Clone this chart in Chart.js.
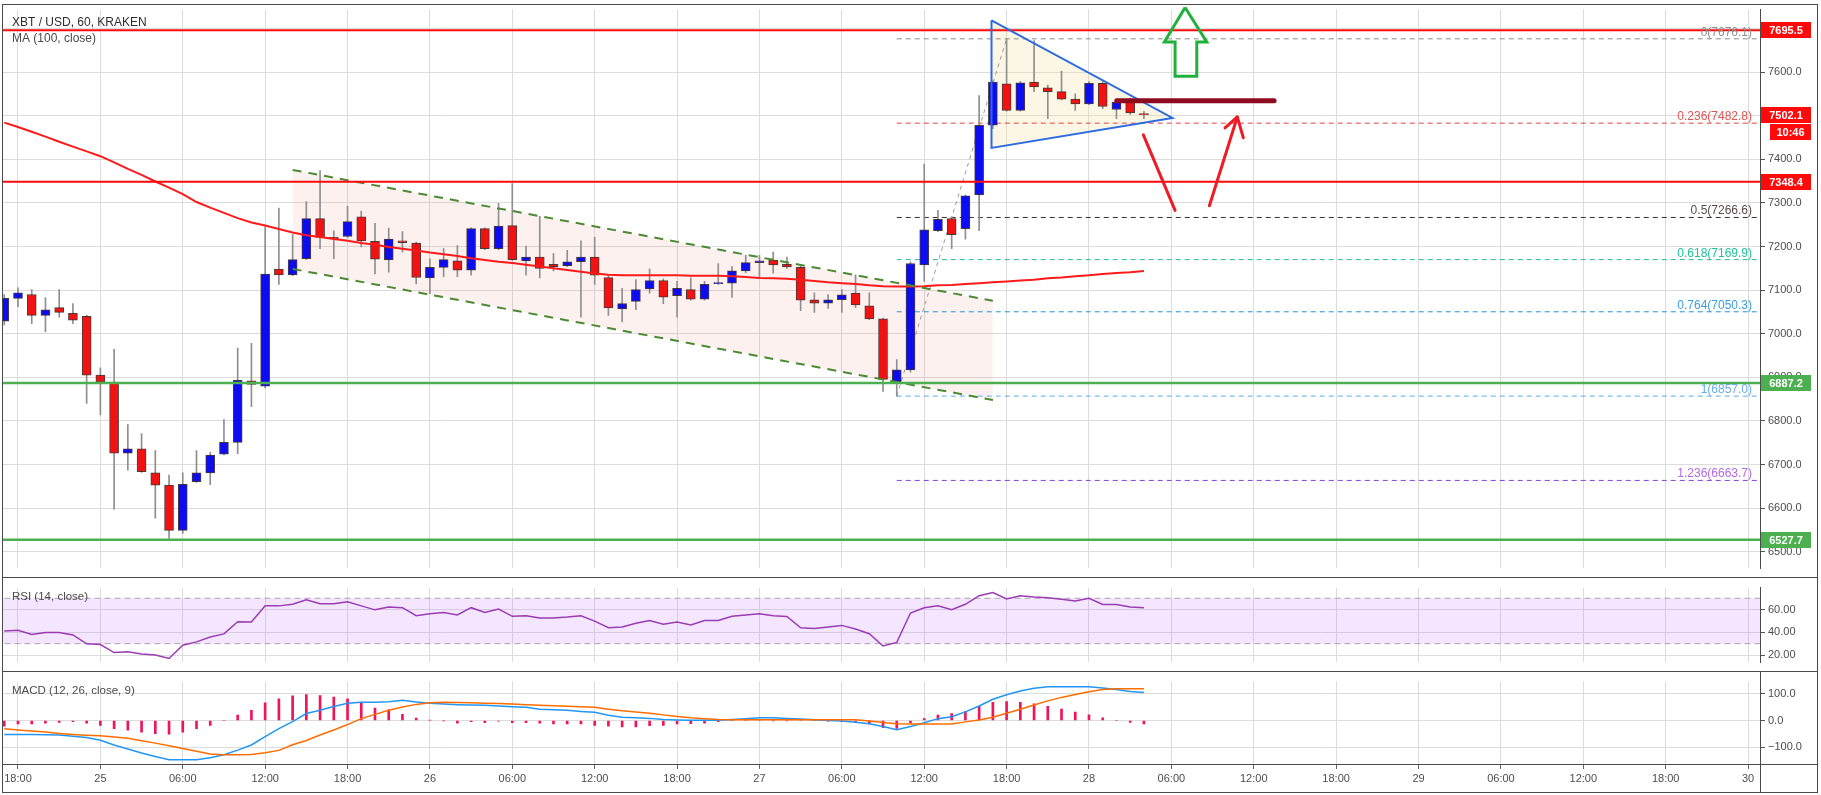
<!DOCTYPE html>
<html><head><meta charset="utf-8">
<script src="https://cdn.jsdelivr.net/npm/chart.js@4.4.1/dist/chart.umd.min.js"></script>
<style>
html,body{margin:0;padding:0;background:#fff;}
#wrap{position:relative;width:1821px;height:795px;overflow:hidden;background:#fff;}
canvas{position:absolute;left:0;}
</style></head><body>
<div id="wrap">
<canvas id="cPrice" width="1821" height="578" style="top:0;width:1821px;height:578px"></canvas>
<canvas id="cRsi" width="1821" height="94" style="top:578px;width:1821px;height:94px"></canvas>
<canvas id="cMacd" width="1821" height="123" style="top:672px;width:1821px;height:123px"></canvas>
</div>
<script>
// ---------- DATA (hourly candles, hour 0 = 24th 18:00) ----------
const FIRST_HOUR = -1;
const candleOpen = [
  7029,7081,7090,7042,7060,7047,7040,6905,6889,6726,
  6736,6681,6653,6549,6661,6681,6724,6751,6892,6880,
  7148,7135,7172,7264,7221,7223,7268,7212,7169,7213,
  7208,7128,7152,7167,7146,7241,7195,7248,7167,7176,
  7159,7156,7165,7176,7129,7057,7074,7103,7122,7087,
  7101,7079,7115,7116,7144,7163,7169,7159,7152,7078,
  7070,7078,7093,7064,7034,6890,6917,7158,7236,7264,
  7241,7318,7478,7573,7512,7577,7564,7555,7538,7527,
  7574,7514,7531,7505];
const candleHigh = [
  7090,7105,7101,7083,7101,7069,7042,6922,6964,6792,
  6771,6732,6676,6681,6732,6728,6803,6967,6978,7245,
  7288,7228,7303,7374,7236,7292,7281,7253,7242,7234,
  7210,7172,7195,7202,7243,7243,7299,7344,7201,7269,
  7184,7191,7213,7221,7134,7104,7124,7149,7126,7120,
  7128,7120,7161,7154,7180,7180,7187,7176,7155,7094,
  7090,7101,7135,7094,7036,6941,7165,7389,7283,7268,
  7318,7546,7580,7676,7578,7672,7570,7602,7550,7578,
  7578,7535,7540,7510];
const candleLow = [
  7020,7062,7023,7004,7038,7023,6840,6814,6598,6687,
  6682,6577,6531,6542,6659,6654,6722,6725,6833,6876,
  7113,7133,7170,7195,7172,7221,7199,7137,7141,7187,
  7114,7092,7131,7131,7134,7193,7193,7168,7134,7128,
  7144,7154,7038,7113,7042,7027,7055,7093,7069,7038,
  7077,7077,7113,7083,7140,7131,7139,7150,7053,7049,
  7058,7049,7060,7032,6868,6857,6912,7120,7234,7195,
  7217,7236,7470,7510,7510,7555,7493,7536,7512,7525,
  7516,7493,7503,7493];
const candleClose = [
  7081,7094,7042,7055,7049,7031,6905,6889,6726,6736,
  6684,6653,6549,6655,6681,6722,6751,6893,6884,7137,
  7135,7170,7264,7221,7218,7257,7213,7171,7217,7209,
  7129,7152,7170,7146,7241,7195,7247,7170,7176,7150,
  7154,7165,7176,7134,7059,7069,7101,7122,7084,7104,
  7079,7113,7117,7144,7163,7167,7158,7153,7077,7070,
  7078,7089,7066,7034,6895,6917,7161,7238,7262,7227,
  7316,7478,7577,7512,7575,7566,7555,7538,7527,7574,
  7521,7531,7506,7502];
const ma100 = [
  7484,7474,7463,7452,7440,7429,7418,7407,7393,7378,
  7364,7349,7335,7320,7302,7289,7277,7265,7255,7248,
  7240,7232,7226,7222,7217,7213,7208,7204,7199,7195,
  7191,7186,7182,7178,7173,7169,7165,7162,7158,7154,
  7150,7146,7142,7138,7135,7134,7134,7134,7134,7134,
  7133,7133,7133,7132,7130,7128,7127,7126,7124,7121,
  7118,7116,7114,7111,7109,7108,7108,7109,7111,7112,
  7114,7116,7118,7120,7122,7124,7127,7129,7132,7134,
  7137,7139,7141,7144];
const rsi14 = [
  41.2,41.9,38.1,39.8,39.8,37.7,29.9,29.2,22.2,22.9,
  21.0,20.0,16.9,28.7,31.6,35.8,38.6,49.4,49.2,63.3,
  63.3,64.7,68.7,65.2,65.2,66.9,63.3,59.8,62.4,61.7,
  54.6,56.3,57.4,55.3,61.7,57.4,60.5,54.1,54.6,52.7,
  52.7,53.4,54.6,49.9,44.0,44.7,48.0,50.4,47.1,49.0,
  46.4,50.4,50.4,54.1,55.3,56.3,54.6,53.9,44.0,43.3,
  44.7,46.1,42.9,38.8,28.0,31.1,57.0,61.7,63.3,60.0,
  64.7,72.3,75.1,69.4,72.3,71.1,70.4,69.2,67.6,69.9,
  64.5,64.5,62.4,61.7];
const macdLine = [
  -52,-52,-52,-53,-54,-58,-63,-73,-91,-106,
  -121,-134,-146,-146,-146,-138,-127,-110,-91,-60,
  -30,-4,26,38,52,64,68,68,70,75,
  69,64,61,59,58,57,54,51,49,42,
  40,38,34,31,20,12,10,8,4,2,
  1,1,1,4,7,10,10,8,6,3,
  0,-2,-6,-12,-22,-34,-22,-8,7,14,
  32,54,79,96,110,120,126,126,126,126,
  121,115,108,104];
const signalLine = [
  -31,-35,-39,-43,-48,-52,-55,-57,-61,-66,
  -75,-84,-94,-104,-114,-124,-127,-127,-126,-120,
  -111,-90,-74,-54,-35,-15,7,23,38,50,
  60,66,68,67,66,64,63,61,59,57,
  55,53,51,49,42,36,32,27,21,15,
  10,7,4,3,3,3,3,3,3,3,
  3,3,3,-2,-7,-12,-13,-13,-13,-13,
  -5,2,12,27,42,58,73,86,97,107,
  115,118,118,118];
const macdHist = [
  -21,-13,-13,-10,-7,-4,-10,-18,-30,-36,
  -43,-49,-51,-43,-30,-18,0,20,38,66,
  81,92,96,93,87,81,64,46,40,23,
  9,1,-1,-10,-4,-8,-2,-8,-8,-10,
  -13,-13,-13,-18,-21,-24,-24,-19,-18,-13,
  -12,-10,-4,0,1,1,-1,-1,0,0,
  -2,-4,-8,-13,-27,-29,-8,7,20,26,
  34,53,68,70,68,62,53,43,31,21,
  10,0,-7,-13];
const xTickLabels = ['18:00','25','06:00','12:00','18:00','26','06:00','12:00','18:00','27','06:00','12:00','18:00','28','06:00','12:00','18:00','29','06:00','12:00','18:00','30'];
const priceTickStep = 100;
const rsiTicks = [20, 40, 60];
const macdTicks = [-100, 0, 100];

// horizontal levels & drawings (hour, price)
const resistanceLevels = [7695.5, 7348.4];
const supportLevels = [6887.2, 6527.7];
const lastPrice = 7502.1;
const countdownText = '10:46';
const fibHigh = 7676.1, fibLow = 6857.0, fibLowHour = 64, fibHighHour = 72;
const fibRatios = [0, 0.236, 0.5, 0.618, 0.764, 1, 1.236];
const channelUpper = [[20, 7375.5], [71, 7075.5]];
const channelLower = [[20, 7148.5], [71, 6848.0]];
const triangle = [[70.9, 7718.6], [84.08, 7494.8], [70.9, 7426.0]];
const greenArrow = [[85.0, 7748], [83.49, 7668.7], [84.27, 7668.7], [84.27, 7590.4], [85.85, 7590.4], [85.85, 7668.7], [86.58, 7668.7], [85.0, 7748]];
const redStrokeDown = [[81.96, 7456], [84.27, 7282.8]];
const redArrowUp = [[86.77, 7293.3], [88.8, 7497]];
const redArrowHead = [[87.91, 7471.7], [88.8, 7497], [89.24, 7449.3]];
const breakLine = [[80.02, 7534.4], [91.48, 7534.4]];

// ---------- STYLE ----------
const X_MIN = -1.165, X_MAX = 126.87;
const GRID = '#dcdcdc', FRAME = '#4a4a4a';
const UP = '#0c0cf2', DOWN = '#f21212';
const fibColors = ['#8e8e8e', '#e8403f', '#3a2c2c', '#1fbf96', '#2196d6', '#5aaee8', '#8a3fe0'];
const fibTextColors = ['#8e8e8e', '#e05555', '#5c4a4a', '#22c29a', '#3a9ede', '#66aee6', '#b468ea'];
Chart.defaults.font.family = "'Liberation Sans', Arial, sans-serif";
Chart.defaults.font.size = 11;
Chart.defaults.color = '#4d4d4d';
Chart.defaults.animation = false;
Chart.defaults.events = [];
Chart.defaults.plugins.legend.display = false;
Chart.defaults.plugins.tooltip.enabled = false;

const hours = candleOpen.map((_, i) => FIRST_HOUR + i);
const series = arr => hours.map((h, i) => ({x: h, y: arr[i]}));
const poly = arr => arr.map(([x, y]) => ({x, y}));
const fibValue = r => fibHigh - r * (fibHigh - fibLow);

function xScale(showLabels) {
  return {
    type: 'linear', min: X_MIN, max: X_MAX, offset: false,
    afterBuildTicks: s => { s.ticks = xTickLabels.map((_, k) => ({value: k * 6})); },
    afterFit: s => { s.height = showLabels ? 30 : 0; },
    ticks: { display: showLabels, autoSkip: false, maxRotation: 0, minRotation: 0, padding: 3, color: '#4d4d4d',
      font: {size: 11}, callback: v => xTickLabels[Math.round(v / 6)] },
    grid: { color: GRID, offset: false, drawTicks: showLabels, tickLength: 4, tickColor: '#666' },
    border: { display: false }
  };
}
function yScale(min, max, step, digits, fixedTicks) {
  const cfg = {
    position: 'right', min, max,
    afterFit: s => { s.width = 61; },
    ticks: { stepSize: step, includeBounds: false, maxTicksLimit: 100, padding: 3, color: '#4d4d4d', font: {size: 11},
      callback: v => (v < 0 ? '\u2212' : '') + Math.abs(v).toFixed(digits) },
    grid: { color: GRID, tickColor: '#555', tickLength: 5 },
    border: { display: true, color: FRAME }
  };
  if (fixedTicks) cfg.afterBuildTicks = s => { s.ticks = fixedTicks.map(v => ({value: v})); };
  return cfg;
}
function frame(ctx, w, top, bottom, opts) {
  ctx.save();
  ctx.strokeStyle = FRAME; ctx.lineWidth = 1;
  ctx.beginPath();
  ctx.moveTo(2.5, top); ctx.lineTo(2.5, bottom);
  ctx.moveTo(1817.5, top); ctx.lineTo(1817.5, bottom);
  (opts.h || []).forEach(y => { ctx.moveTo(2, y); ctx.lineTo(1818, y); });
  (opts.v || []).forEach(x => { ctx.moveTo(x, top); ctx.lineTo(x, bottom); });
  ctx.stroke();
  ctx.restore();
}
function tag(ctx, x0, w, yc, text, bg) {
  ctx.fillStyle = bg;
  ctx.fillRect(x0, Math.round(yc) - 8, w, 16);
  ctx.fillStyle = '#ffffff';
  ctx.font = 'bold 11px "Liberation Sans", Arial, sans-serif';
  ctx.textAlign = 'center'; ctx.textBaseline = 'middle';
  ctx.fillText(text, x0 + w / 2, Math.round(yc) + 0.5);
}
const lineDs = (data, color, width, extra) => Object.assign({
  type: 'line', data, borderColor: color, borderWidth: width, pointRadius: 0, tension: 0, fill: false
}, extra || {});

// ---------- PRICE PANE ----------
const priceDatasets = [
  lineDs(poly(channelUpper), 'rgba(0,0,0,0)', 0, {fill: '+1', backgroundColor: 'rgba(240,120,100,0.1)', order: 95}),
  lineDs(poly(channelLower), 'rgba(0,0,0,0)', 0, {order: 95}),
  lineDs(poly(triangle.slice(0, 2)), 'rgba(0,0,0,0)', 0, {fill: '+1', backgroundColor: 'rgba(245,225,170,0.3)', order: 94}),
  lineDs(poly([triangle[2], triangle[1]]), 'rgba(0,0,0,0)', 0, {order: 94}),
  lineDs([{x: fibLowHour, y: fibLow}, {x: fibHighHour, y: fibHigh}], '#9a9a9a', 1, {borderDash: [4, 4], order: 90}),
  ...fibRatios.map((r, k) => lineDs([{x: fibLowHour, y: fibValue(r)}, {x: X_MAX + 2, y: fibValue(r)}], fibColors[k], 1, {borderDash: [5, 4], order: 90})),
  { type: 'bar', data: hours.map((h, i) => ({x: h, y: [candleLow[i], candleHigh[i]]})), backgroundColor: '#8f8f8f',
    barThickness: 1, grouped: false, order: 40 },
  { type: 'bar', data: hours.map((h, i) => ({x: h, y: [candleOpen[i], candleClose[i]]})),
    backgroundColor: hours.map((h, i) => candleClose[i] >= candleOpen[i] ? UP : DOWN),
    borderColor: 'rgba(45,25,25,0.85)', borderWidth: 1, borderSkipped: false, barThickness: 9, grouped: false, order: 30 },
  lineDs(series(ma100), '#ff1a1a', 2, {order: 20}),
  lineDs(poly(channelUpper), '#4a8a32', 2, {borderDash: [9, 7], order: 10}),
  lineDs(poly(channelLower), '#4a8a32', 2, {borderDash: [9, 7], order: 10}),
  ...resistanceLevels.map(v => lineDs([{x: X_MIN - 2, y: v}, {x: X_MAX + 2, y: v}], '#ff0a0a', 2, {order: 8})),
  ...supportLevels.map(v => lineDs([{x: X_MIN - 2, y: v}, {x: X_MAX + 2, y: v}], '#4caf50', 2.5, {order: 8})),
  lineDs(poly([...triangle, triangle[0]]), '#2d6be0', 2, {order: 6, borderJoinStyle: 'miter'}),
  lineDs(poly(greenArrow), '#22b03c', 3, {order: 4, clip: false, borderJoinStyle: 'miter'}),
  lineDs(poly(redStrokeDown), '#ee1c25', 3, {order: 4, borderCapStyle: 'round'}),
  lineDs(poly(redArrowUp), '#ee1c25', 3, {order: 4, borderCapStyle: 'round'}),
  lineDs(poly(redArrowHead), '#ee1c25', 3, {order: 4, borderCapStyle: 'round', borderJoinStyle: 'round'}),
  lineDs(poly(breakLine), '#8e0a1e', 5, {order: 3, borderCapStyle: 'round'})
];

const priceDecor = {
  id: 'priceDecor',
  afterDatasetsDraw(chart) {
    const {ctx, chartArea: a, scales: {y}} = chart;
    ctx.save();
    ctx.font = '12px "Liberation Sans", Arial, sans-serif';
    ctx.textAlign = 'right'; ctx.textBaseline = 'alphabetic';
    fibRatios.forEach((r, k) => {
      const v = fibValue(r);
      ctx.fillStyle = fibTextColors[k];
      ctx.fillText(r + '(' + v.toFixed(1) + ')', a.right - 8, y.getPixelForValue(v) - 3);
    });
    ctx.textAlign = 'left';
    ctx.fillStyle = '#2e2e2e';
    ctx.font = '12px "Liberation Sans", Arial, sans-serif';
    ctx.fillText('XBT / USD, 60, KRAKEN', 12, 26);
    ctx.fillStyle = '#4a4a4a';
    ctx.fillText('MA (100, close)', 12, 42);
    ctx.restore();
  },
  afterDraw(chart) {
    const {ctx, chartArea: a, scales: {y}} = chart;
    ctx.save();
    resistanceLevels.forEach(v => tag(ctx, a.right + 1, 50, y.getPixelForValue(v), v.toFixed(1), '#ff0a0a'));
    supportLevels.forEach(v => tag(ctx, a.right + 1, 50, y.getPixelForValue(v), v.toFixed(1), '#4caf50'));
    const yl = y.getPixelForValue(lastPrice);
    tag(ctx, a.right + 1, 50, yl, lastPrice.toFixed(1), '#ff0a0a');
    tag(ctx, a.right + 10, 41, yl + 17, countdownText, '#ff0a0a');
    ctx.restore();
    frame(ctx, 1821, 4.5, 578, {h: [4.5, 577.5]});
  }
};

new Chart(document.getElementById('cPrice'), {
  type: 'bar',
  data: { datasets: priceDatasets },
  options: {
    responsive: false, maintainAspectRatio: false, devicePixelRatio: 1,
    layout: { padding: {top: 5, left: 2, right: 0, bottom: 0} },
    scales: { x: xScale(false), y: yScale(6462.0, 7743.1, priceTickStep, 1) }
  },
  plugins: [priceDecor]
});

// ---------- RSI PANE ----------
new Chart(document.getElementById('cRsi'), {
  type: 'line',
  data: { datasets: [
    lineDs([{x: X_MIN - 2, y: 70}, {x: X_MAX + 2, y: 70}], '#aca4b4', 1, {borderDash: [6, 4], fill: '+1', backgroundColor: 'rgba(190,120,250,0.19)', order: 50}),
    lineDs([{x: X_MIN - 2, y: 30}, {x: X_MAX + 2, y: 30}], '#aca4b4', 1, {borderDash: [6, 4], order: 50}),
    lineDs(series(rsi14), '#9c3cb4', 1.5, {order: 1})
  ]},
  options: {
    responsive: false, maintainAspectRatio: false, devicePixelRatio: 1,
    layout: { padding: {top: 0, left: 2, right: 0, bottom: 0} },
    scales: { x: xScale(false), y: yScale(13.5, 79.4, 20, 2, rsiTicks) }
  },
  plugins: [{
    id: 'rsiDecor',
    afterDraw(chart) {
      const ctx = chart.ctx;
      ctx.save();
      ctx.fillStyle = '#4a4a4a';
      ctx.font = '11.5px "Liberation Sans", Arial, sans-serif';
      ctx.textAlign = 'left'; ctx.textBaseline = 'alphabetic';
      ctx.fillText('RSI (14, close)', 12, 22);
      ctx.restore();
      frame(ctx, 1821, 0, 94, {h: [93.5]});
    }
  }]
});

// ---------- MACD PANE ----------
new Chart(document.getElementById('cMacd'), {
  type: 'bar',
  data: { datasets: [
    { type: 'bar', data: hours.map((h, i) => ({x: h, y: [0, macdHist[i]]})), backgroundColor: '#f0145a',
      barThickness: 2, grouped: false, order: 30 },
    lineDs(series(macdLine), '#2196f3', 1.5, {order: 10}),
    lineDs(series(signalLine), '#ff6d00', 1.5, {order: 5})
  ]},
  options: {
    responsive: false, maintainAspectRatio: false, devicePixelRatio: 1,
    layout: { padding: {top: 0, left: 2, right: 0, bottom: 0} },
    scales: { x: xScale(true), y: yScale(-165.3, 144.7, 100, 1, macdTicks) }
  },
  plugins: [{
    id: 'macdDecor',
    afterDraw(chart) {
      const {ctx, chartArea: a} = chart;
      ctx.save();
      ctx.fillStyle = '#4a4a4a';
      ctx.font = '11.5px "Liberation Sans", Arial, sans-serif';
      ctx.textAlign = 'left'; ctx.textBaseline = 'alphabetic';
      ctx.fillText('MACD (12, 26, close, 9)', 12, 22);
      ctx.restore();
      frame(ctx, 1821, 0, 121, {h: [Math.round(a.bottom) - 0.5, 120.5], v: [1760.5]});
    }
  }]
});
</script>
</body></html>
